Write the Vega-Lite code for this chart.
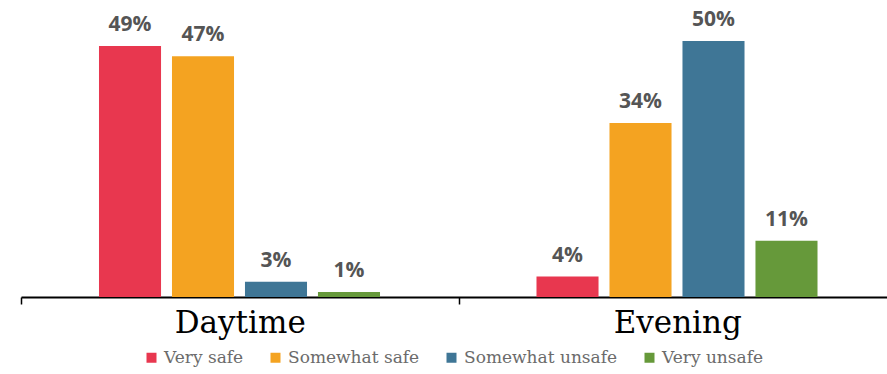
{
  "$schema": "https://vega.github.io/schema/vega-lite/v6.json",
  "width": 875,
  "height": 297,
  "autosize": {"type": "none"},
  "padding": {"left": 21, "top": 0, "right": 0, "bottom": 77},
  "background": "white",
  "config": {"view": {"stroke": null}},
  "data": {"values": [
    {"time": "Daytime", "level": "Very safe", "value": 0.49},
    {"time": "Daytime", "level": "Somewhat safe", "value": 0.47},
    {"time": "Daytime", "level": "Somewhat unsafe", "value": 0.03},
    {"time": "Daytime", "level": "Very unsafe", "value": 0.01},
    {"time": "Evening", "level": "Very safe", "value": 0.04},
    {"time": "Evening", "level": "Somewhat safe", "value": 0.34},
    {"time": "Evening", "level": "Somewhat unsafe", "value": 0.50},
    {"time": "Evening", "level": "Very unsafe", "value": 0.11}
  ]},
  "encoding": {
    "x": {"field": "time", "type": "nominal", "sort": ["Daytime", "Evening"],
      "scale": {"paddingInner": 0, "paddingOuter": 0},
      "axis": {"title": null, "labelAngle": 0, "domainColor": "black", "domainWidth": 2,
        "tickColor": "black", "tickWidth": 1.5, "tickSize": 7, "tickBand": "extent",
        "labelFont": "DejaVu Serif", "labelFontSize": 31, "labelColor": "black",
        "labelPadding": 4}},
    "xOffset": {"field": "level", "type": "nominal",
      "sort": ["Very safe", "Somewhat safe", "Somewhat unsafe", "Very unsafe"],
      "scale": {"paddingInner": 0.15, "paddingOuter": 1, "range": [5, 432]}},
    "y": {"field": "value", "type": "quantitative", "scale": {"domain": [0, 0.58]}, "axis": null}
  },
  "layer": [
    {"mark": {"type": "bar"},
     "encoding": {"color": {"field": "level", "type": "nominal",
        "sort": ["Very safe", "Somewhat safe", "Somewhat unsafe", "Very unsafe"],
        "scale": {"domain": ["Very safe", "Somewhat safe", "Somewhat unsafe", "Very unsafe"],
          "range": ["#E8374F", "#F4A321", "#3F7696", "#66993A"]},
        "legend": {"title": null, "orient": "none", "direction": "horizontal",
          "legendX": 122, "legendY": 349, "symbolType": "square", "symbolSize": 100,
          "symbolStrokeWidth": 0, "labelFont": "DejaVu Serif", "labelFontSize": 17,
          "labelColor": "#6b6b6b", "columnPadding": 23, "labelOffset": 4}}}},
    {"mark": {"type": "text", "baseline": "alphabetic", "dy": -15, "font": "Open Sans",
      "fontWeight": "bold", "fontSize": 21, "color": "#555555"},
     "encoding": {"text": {"field": "value", "type": "quantitative", "format": ".0%"},
       "detail": {"field": "level"}}}
  ]
}
